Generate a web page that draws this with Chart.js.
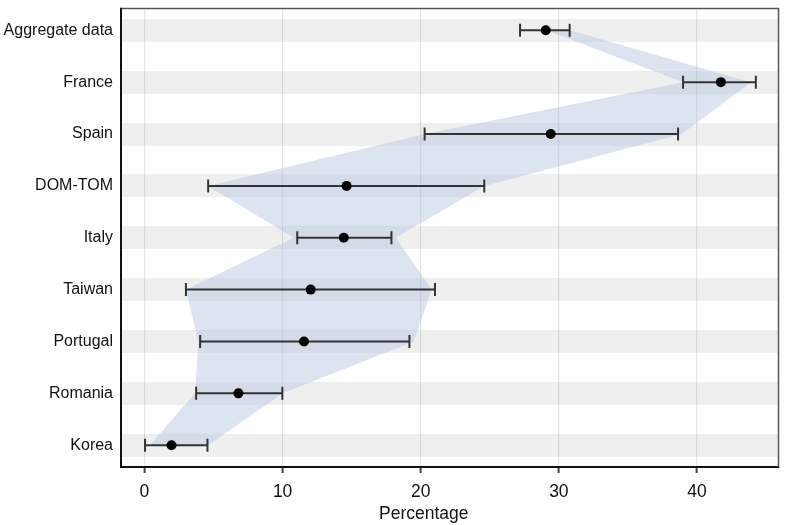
<!DOCTYPE html>
<html><head><meta charset="utf-8">
<script src="https://cdn.jsdelivr.net/npm/chart.js@4/dist/chart.umd.min.js"></script>
<style>html,body{margin:0;padding:0;background:#fff}#wrap{width:787px;height:525px}</style>
</head><body><div id="wrap"><canvas id="c" width="787" height="525"></canvas></div>
<script>
const categories = ['Aggregate data','France','Spain','DOM-TOM','Italy','Taiwan','Portugal','Romania','Korea'];
const estimate = [29.05, 41.73, 29.41, 14.63, 14.43, 12.03, 11.55, 6.80, 1.96];
const lower    = [27.19, 38.99, 20.28, 4.61, 11.06, 3.00, 4.03, 3.74, 0.04];
const upper    = [30.78, 44.26, 38.63, 24.60, 17.88, 21.03, 19.18, 9.98, 4.56];
const bandLower = [29.1, 39.0, 20.3, 4.6, 10.8, 3.0, 3.9, 3.65, 0.4];
const bandUpper = [30.8, 43.9, 38.9, 24.6, 18.2, 20.8, 19.5, 10.0, 4.6];
const xTicks = [0, 10, 20, 30, 40];
const xTitle = 'Percentage';

Chart.defaults.font.family = '"Liberation Sans", Arial, sans-serif';
Chart.defaults.color = '#111';

const ribbonColor = 'rgba(176,196,222,0.45)';

const datasets = [
  { data: bandLower.map((v, i) => ({x: v, y: i})), borderColor: 'rgba(0,0,0,0)', borderWidth: 0,
    pointRadius: 0, fill: false, backgroundColor: ribbonColor, order: 3 },
  { data: bandUpper.map((v, i) => ({x: v, y: i})), borderColor: 'rgba(0,0,0,0)', borderWidth: 0,
    pointRadius: 0, fill: '-1', backgroundColor: ribbonColor, order: 3 },
  ...categories.map((c, i) => ({
    data: [{x: lower[i], y: i}, {x: upper[i], y: i}],
    borderColor: '#333', borderWidth: 2, fill: false,
    pointStyle: 'line', pointRotation: 90, pointRadius: 6.5,
    pointBorderWidth: 2, pointBorderColor: '#333', order: 2
  })),
  { data: estimate.map((v, i) => ({x: v, y: i})), showLine: false, pointRadius: 5,
    pointBackgroundColor: '#000', pointBorderColor: '#000', pointBorderWidth: 0, order: 1 }
];

const frame = {
  id: 'frame',
  beforeDatasetsDraw(chart) {
    const {ctx, chartArea: a} = chart;
    ctx.save();
    ctx.strokeStyle = '#555';
    ctx.lineWidth = 1.5;
    ctx.beginPath();
    ctx.moveTo(a.left, a.top);
    ctx.lineTo(a.right, a.top);
    ctx.lineTo(a.right, a.bottom);
    ctx.stroke();
    ctx.strokeStyle = '#111';
    ctx.lineWidth = 2;
    ctx.beginPath();
    ctx.moveTo(a.left, a.top - 0.75);
    ctx.lineTo(a.left, a.bottom + 1);
    ctx.stroke();
    ctx.restore();
  },
  afterDraw(chart) {
    const {ctx, scales: {x}} = chart;
    ctx.save();
    ctx.font = '17.5px "Liberation Sans", Arial, sans-serif';
    ctx.fillStyle = '#111';
    ctx.textAlign = 'center';
    ctx.textBaseline = 'alphabetic';
    ctx.fillText(xTitle, (x.left + x.right) / 2 - 26, 519);
    ctx.restore();
  }
};

new Chart(document.getElementById('c'), {
  type: 'line',
  data: { datasets },
  plugins: [frame],
  options: {
    indexAxis: 'y',
    responsive: false,
    devicePixelRatio: 1,
    animation: false,
    events: [],
    layout: { padding: { top: 8, right: 7, left: 0, bottom: 0 } },
    plugins: { legend: { display: false }, tooltip: { enabled: false } },
    scales: {
      x: {
        type: 'linear', position: 'bottom', min: -1.7, max: 45.9,
        afterBuildTicks: s => { s.ticks = xTicks.map(v => ({value: v})); },
        afterFit: s => { s.height = 58; s.paddingLeft = 0; s.paddingRight = 0; },
        ticks: { font: { size: 17.5 }, color: '#111', padding: 9, maxRotation: 0 },
        grid: { color: '#e4e4e4', lineWidth: 1.2, tickColor: '#444', tickLength: 6, tickWidth: 2 },
        border: { display: true, color: '#111', width: 2 }
      },
      y: {
        type: 'linear', position: 'left', min: -0.42, max: 8.42, reverse: true,
        afterBuildTicks: s => { s.ticks = categories.map((c, i) => ({value: i})); },
        afterFit: s => { s.width = 121; s.paddingTop = 0; s.paddingBottom = 0; },
        ticks: { font: { size: 16 }, color: '#111', padding: 8, callback: v => categories[v] },
        grid: { color: 'rgba(0,0,0,0.063)', lineWidth: 23, drawTicks: false },
        border: { display: false }
      }
    }
  }
});
</script>
</body></html>
